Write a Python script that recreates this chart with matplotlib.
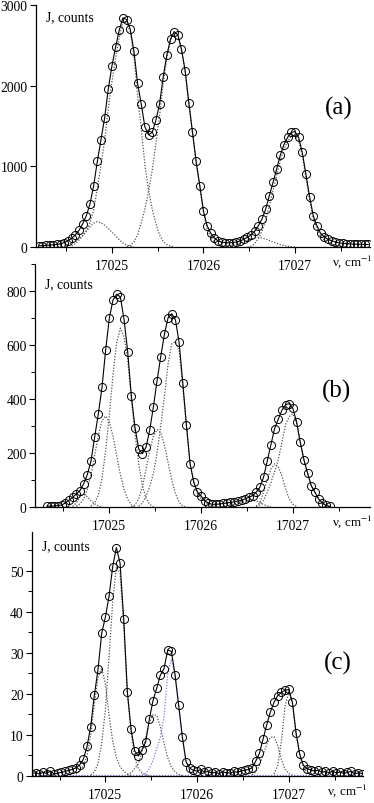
import numpy as np
import matplotlib
matplotlib.use("Agg")
import matplotlib.pyplot as plt
from matplotlib.ticker import MultipleLocator

plt.rcParams['font.family'] = ['Liberation Serif', 'DejaVu Serif']
plt.rcParams['mathtext.fontset'] = 'stix'

STEP = 0.04  # cm-1, spacing of the points

# ---- panel (a) ----
a_start = 17024.20
a_data = [15, 17, 20, 24, 28, 32, 40, 55, 80, 108,
          150, 207, 285, 388, 535, 760, 1060, 1330, 1600, 1960,
          2245, 2480, 2690, 2840, 2820, 2700, 2430, 2030, 1770, 1490,
          1390, 1420, 1570, 1770, 2110, 2380, 2577, 2670, 2630, 2450,
          2185, 1790, 1425, 1060, 760, 445, 264, 170, 110, 75,
          60, 55, 52, 55, 62, 75, 95, 120, 150, 195,
          264, 347, 470, 636, 800, 967, 1140, 1270, 1360, 1421,
          1430, 1360, 1173, 900, 623, 388, 264, 170, 125, 95,
          78, 62, 52, 46, 42, 38, 36, 34, 33, 32, 31]
a_c0_start = 17024.56
a_c0 = [15, 40, 85, 140, 195, 250, 295, 314, 300, 270, 230, 185, 140, 90, 50, 25, 10, 3]
a_c1_start = 17024.48
a_c1 = [20, 30, 50, 75, 105, 140, 200, 300, 460, 730, 1015, 1315, 1720, 2050, 2340, 2600,
        2790, 2795, 2670, 2370, 1880, 1470, 1020, 710, 470, 290, 150, 70, 30, 10, 0]
a_c2_start = 17025.16
a_c2 = [5, 20, 60, 150, 300, 470, 690, 950, 1280, 1620, 2030, 2340, 2560, 2660, 2625,
        2450, 2180, 1780, 1420, 1050, 745, 430, 230, 120, 55, 20, 5, 0]
a_c3_start = 17026.48
a_c3 = [0, 10, 42, 104, 195, 332, 516, 698, 882, 1070, 1212, 1310, 1377, 1390, 1320,
        1135, 865, 585, 350, 225, 135, 85, 55, 38, 22, 12, 6, 0]
a_c4_start = 17026.20
a_c4 = [5, 9, 15, 24, 35, 48, 65, 82, 100, 113, 120, 112, 98, 80, 62, 45, 30, 18, 10, 4, 0]

# ---- panel (b) ----
b_start = 17024.32
b_data = [3, 3, 4, 5, 7, 15, 25, 36, 48, 61,
          86, 120, 170, 259, 345, 443, 582, 700, 767, 788,
          778, 695, 575, 410, 293, 215, 197, 222, 285, 371,
          468, 557, 640, 701, 716, 693, 610, 460, 302, 160,
          92, 55, 40, 23, 14, 10, 10, 11, 13, 15,
          17, 19, 22, 25, 30, 36, 42, 55, 73, 110,
          170, 230, 290, 325, 358, 379, 383, 365, 315, 240,
          175, 125, 79, 55, 30, 15, 6, 2]
b_c0_start = 17024.60
b_c0 = [2, 15, 38, 48, 38, 24, 12, 4, 0]
b_c1_start = 17024.64
b_c1 = [3, 12, 30, 65, 120, 190, 265, 320, 337, 315, 262, 190, 120, 65, 28, 8, 0]
b_c2_start = 17024.80
b_c2 = [3, 15, 45, 105, 210, 340, 490, 610, 662, 630, 545, 400, 270, 160, 80, 32, 10, 0]
b_c3_start = 17025.24
b_c3 = [0, 8, 30, 75, 140, 210, 262, 287, 275, 230, 165, 100, 50, 18, 3, 0]
b_c4_start = 17025.32
b_c4 = [3, 15, 40, 75, 125, 200, 300, 410, 530, 605, 612, 580, 450, 300, 160, 90,
        50, 30, 18, 10, 5, 2, 0]
b_c5_start = 17026.24
b_c5 = [2, 4, 8, 12, 16, 20, 23, 25, 25, 22, 16, 9, 4, 1]
b_c6_start = 17026.60
b_c6 = [3, 15, 55, 100, 140, 160, 150, 115, 68, 30, 10, 2]
b_c7_start = 17026.60
b_c7 = [2, 8, 25, 55, 90, 130, 175, 240, 305, 335, 345, 312, 240, 175, 125, 79,
        55, 30, 15, 6, 2]

# ---- panel (c) ----
c_start = 17024.20
c_data = [0.6, 0.8, 0.5, 0.9, 0.6, 1.2, 0.5, 0.7, 0.9, 1.1,
          1.4, 1.6, 2.0, 2.7, 4.1, 7.2, 12.0, 19.7, 26.0, 34.8,
          38.7, 43.8, 51.0, 55.7, 52.0, 38.4, 20.5, 11.5, 6.1, 4.9,
          6.4, 8.3, 13.9, 18.4, 21.4, 24.6, 26.2, 30.7, 30.4, 24.7,
          17.2, 9.5, 3.5, 1.9, 1.4, 1.2, 1.6, 0.9, 1.1, 0.7,
          0.9, 0.6, 1.0, 0.8, 0.7, 1.1, 0.9, 1.2, 1.4, 1.6,
          2.0, 3.6, 5.5, 9.0, 12.5, 15.6, 18.0, 19.6, 20.4, 20.9,
          21.1, 18.0, 10.5, 5.3, 2.6, 1.8, 1.5, 1.2, 1.4, 0.9,
          1.1, 0.8, 1.2, 0.7, 1.0, 0.6, 0.9, 1.1, 0.5, 0.8, 0.6]
c_c1_start = 17024.68
c_c1 = [0.5, 1.2, 2.5, 5.0, 10.0, 17.5, 24.0, 26.3, 22.5, 15.0, 8.5, 4.5, 2.3, 1.2, 0.5, 0.1]
c_c2_start = 17024.84
c_c2 = [0.3, 1.0, 3.0, 8.0, 16.0, 29.0, 42.5, 51.0, 49.5, 37.0, 20.0, 11.0, 4.5, 1.8, 0.8, 0.3, 0.1]
c_c3_start = 17025.24
c_c3 = [0.3, 0.8, 1.8, 3.0, 6.0, 9.5, 13.0, 15.0, 14.8, 12.0, 8.0, 4.5, 2.2, 1.0, 0.4, 0.1]
c_c4_start = 17025.40
c_c4 = [0.3, 0.6, 1.8, 3.8, 6.6, 9.5, 14.5, 25.0, 28.5, 24.5, 17.0, 9.3, 3.4, 1.2, 0.4, 0.1]
c_c5_start = 17026.60
c_c5 = [0.3, 1.0, 2.5, 5.0, 7.8, 9.4, 9.6, 7.5, 4.0, 1.6, 0.6, 0.2]
c_c6_start = 17026.84
c_c6 = [0.5, 2.5, 8.5, 17.0, 20.5, 17.8, 10.3, 5.0, 2.2, 0.8, 0.3]


def grid(start, vals):
    return start + STEP * np.arange(len(vals))


FS = 9.8
dot = (0, (1, 1.3))

fig = plt.figure(figsize=(3.74, 8.04), dpi=100)
axA = fig.add_axes([36/374, 1-248/804, 334/374, 242/804])
axB = fig.add_axes([35/374, 1-508/804, 335/374, 243/804])
axC = fig.add_axes([32/374, 1-777/804, 331/374, 244/804])
for ax in (axA, axB, axC):
    ax.set_facecolor('none')


def style(ax, xlim, ylim, ymaj, ymin, letter, lx, ly, jy, nu_xy):
    ax.set_xlim(*xlim)
    ax.set_ylim(*ylim)
    for s in ['top', 'right']:
        ax.spines[s].set_visible(False)
    for s in ['left', 'bottom']:
        ax.spines[s].set_linewidth(0.9)
    ax.xaxis.set_major_locator(MultipleLocator(1))
    ax.xaxis.set_minor_locator(MultipleLocator(0.5))
    ax.yaxis.set_major_locator(MultipleLocator(ymaj))
    if ymin:
        ax.yaxis.set_minor_locator(MultipleLocator(ymin))
    ax.xaxis.set_major_formatter(plt.FuncFormatter(lambda v, p: '%d' % round(v)))
    ax.tick_params(which='major', direction='out', length=4, width=0.8, labelsize=FS, pad=2)
    ax.tick_params(axis='x', which='major', pad=5)
    ax.tick_params(which='minor', direction='out', length=3, width=0.7)
    ax.text(0.03, jy, 'J, counts', transform=ax.transAxes, fontsize=FS, va='center', ha='left')
    ax.text(lx, ly, letter, transform=ax.transAxes, fontsize=18, ha='center', va='center')
    fig.text(nu_xy[0]/374, 1-nu_xy[1]/804, r'ν, cm$^{-1}$', fontsize=9.4,
             ha='right', va='center')


def data_line(ax, start, vals):
    ax.plot(grid(start, vals), vals, color='black', lw=0.8, marker='o', ms=5.8,
            mfc='none', mec='black', mew=0.7, zorder=3)


def comp(ax, start, vals, color='#555555'):
    ax.plot(grid(start, vals), vals, color=color, lw=0.9, ls=dot, zorder=2)


# (a)
for st, v in [(a_c0_start, a_c0), (a_c1_start, a_c1), (a_c2_start, a_c2),
              (a_c3_start, a_c3), (a_c4_start, a_c4)]:
    comp(axA, st, v)
data_line(axA, a_start, a_data)
style(axA, (17024.17, 17027.82), (0, 3000), 1000, None, '(a)', 0.905, 0.575, 0.95, (372, 262))

# (b)
for st, v in [(b_c0_start, b_c0), (b_c1_start, b_c1), (b_c2_start, b_c2),
              (b_c3_start, b_c3), (b_c4_start, b_c4), (b_c5_start, b_c5),
              (b_c6_start, b_c6), (b_c7_start, b_c7)]:
    comp(axB, st, v)
data_line(axB, b_start, b_data)
style(axB, (17024.19, 17027.84), (0, 900), 200, 100, '(b)', 0.90, 0.48, 0.918, (372, 522))

# (c)
axC.axhline(0.15, color='#7a70c8', lw=0.9, ls=dot, zorder=2)
for st, v in [(c_c1_start, c_c1), (c_c2_start, c_c2), (c_c3_start, c_c3),
              (c_c5_start, c_c5), (c_c6_start, c_c6)]:
    comp(axC, st, v)
comp(axC, c_c4_start, c_c4, color='#8a7fd6')
data_line(axC, c_start, c_data)
style(axC, (17024.20, 17027.81), (0, 59.5), 10, 5, '(c)', 0.925, 0.466, 0.943, (367, 791))

fig.savefig('out.png', dpi=100, facecolor='white')
